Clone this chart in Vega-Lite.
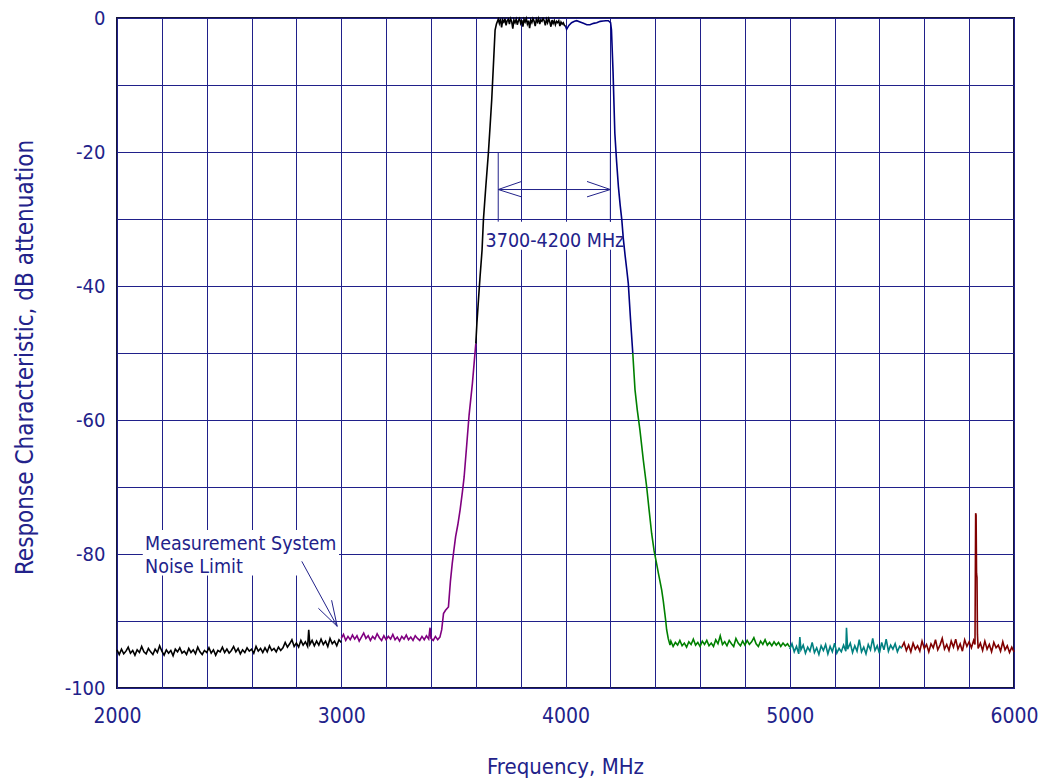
{
"$schema": "https://vega.github.io/schema/vega-lite/v6.json",
"width": 897, "height": 670,
"autosize": {"type": "none"},
"padding": {"left": 117, "top": 18, "right": 26, "bottom": 96},
"background": "white",
"view": {"stroke": "#16163a", "strokeWidth": 2},
"config": {"font": "Liberation Sans Narrow, DejaVu Sans Condensed, Arial Narrow, sans-serif"},
"datasets": {
"trace": [
{"f":2000,"d":-94.3,"s":"k1"},{"f":2010,"d":-95.0,"s":"k1"},{"f":2020,"d":-94.2,"s":"k1"},{"f":2030,"d":-94.9,"s":"k1"},{"f":2040,"d":-94.5,"s":"k1"},{"f":2050,"d":-93.9,"s":"k1"},{"f":2060,"d":-94.8,"s":"k1"},{"f":2070,"d":-94.4,"s":"k1"},{"f":2080,"d":-95.1,"s":"k1"},{"f":2090,"d":-94.3,"s":"k1"},
{"f":2100,"d":-94.7,"s":"k1"},{"f":2110,"d":-93.8,"s":"k1"},{"f":2120,"d":-94.6,"s":"k1"},{"f":2130,"d":-94.9,"s":"k1"},{"f":2140,"d":-94.1,"s":"k1"},{"f":2150,"d":-94.6,"s":"k1"},{"f":2160,"d":-95.0,"s":"k1"},{"f":2170,"d":-94.2,"s":"k1"},{"f":2180,"d":-94.7,"s":"k1"},{"f":2190,"d":-93.7,"s":"k1"},
{"f":2200,"d":-94.5,"s":"k1"},{"f":2210,"d":-95.1,"s":"k1"},{"f":2220,"d":-94.3,"s":"k1"},{"f":2230,"d":-94.8,"s":"k1"},{"f":2240,"d":-94.4,"s":"k1"},{"f":2250,"d":-95.2,"s":"k1"},{"f":2260,"d":-94.2,"s":"k1"},{"f":2270,"d":-94.6,"s":"k1"},{"f":2280,"d":-94.0,"s":"k1"},{"f":2290,"d":-94.8,"s":"k1"},
{"f":2300,"d":-94.5,"s":"k1"},{"f":2310,"d":-95.0,"s":"k1"},{"f":2320,"d":-94.1,"s":"k1"},{"f":2330,"d":-94.7,"s":"k1"},{"f":2340,"d":-94.3,"s":"k1"},{"f":2350,"d":-94.9,"s":"k1"},{"f":2360,"d":-93.9,"s":"k1"},{"f":2370,"d":-94.6,"s":"k1"},{"f":2380,"d":-95.0,"s":"k1"},{"f":2390,"d":-94.4,"s":"k1"},
{"f":2400,"d":-94.7,"s":"k1"},{"f":2410,"d":-94.0,"s":"k1"},{"f":2420,"d":-94.8,"s":"k1"},{"f":2430,"d":-94.3,"s":"k1"},{"f":2440,"d":-95.1,"s":"k1"},{"f":2450,"d":-94.4,"s":"k1"},{"f":2460,"d":-94.6,"s":"k1"},{"f":2470,"d":-93.9,"s":"k1"},{"f":2480,"d":-94.7,"s":"k1"},{"f":2490,"d":-94.2,"s":"k1"},
{"f":2500,"d":-94.8,"s":"k1"},{"f":2510,"d":-94.4,"s":"k1"},{"f":2520,"d":-93.8,"s":"k1"},{"f":2530,"d":-94.6,"s":"k1"},{"f":2540,"d":-94.1,"s":"k1"},{"f":2550,"d":-94.9,"s":"k1"},{"f":2560,"d":-94.3,"s":"k1"},{"f":2570,"d":-94.7,"s":"k1"},{"f":2580,"d":-94.0,"s":"k1"},{"f":2590,"d":-94.5,"s":"k1"},
{"f":2600,"d":-94.2,"s":"k1"},{"f":2610,"d":-94.8,"s":"k1"},{"f":2620,"d":-93.8,"s":"k1"},{"f":2630,"d":-94.5,"s":"k1"},{"f":2640,"d":-94.1,"s":"k1"},{"f":2650,"d":-94.7,"s":"k1"},{"f":2660,"d":-94.0,"s":"k1"},{"f":2670,"d":-94.6,"s":"k1"},{"f":2680,"d":-93.7,"s":"k1"},{"f":2690,"d":-94.4,"s":"k1"},
{"f":2700,"d":-94.1,"s":"k1"},{"f":2710,"d":-94.6,"s":"k1"},{"f":2720,"d":-93.9,"s":"k1"},{"f":2730,"d":-94.4,"s":"k1"},{"f":2740,"d":-94.0,"s":"k1"},{"f":2750,"d":-93.2,"s":"k1"},{"f":2760,"d":-93.9,"s":"k1"},{"f":2770,"d":-93.4,"s":"k1"},{"f":2780,"d":-92.8,"s":"k1"},{"f":2790,"d":-93.8,"s":"k1"},
{"f":2800,"d":-93.3,"s":"k1"},{"f":2810,"d":-93.9,"s":"k1"},{"f":2820,"d":-92.9,"s":"k1"},{"f":2830,"d":-93.6,"s":"k1"},{"f":2840,"d":-93.1,"s":"k1"},{"f":2850,"d":-93.8,"s":"k1"},{"f":2855,"d":-91.3,"s":"k1"},{"f":2860,"d":-93.5,"s":"k1"},{"f":2870,"d":-92.9,"s":"k1"},{"f":2880,"d":-93.7,"s":"k1"},{"f":2890,"d":-93.0,"s":"k1"},
{"f":2900,"d":-93.6,"s":"k1"},{"f":2910,"d":-92.7,"s":"k1"},{"f":2920,"d":-93.5,"s":"k1"},{"f":2930,"d":-93.0,"s":"k1"},{"f":2940,"d":-93.8,"s":"k1"},{"f":2950,"d":-92.6,"s":"k1"},{"f":2960,"d":-93.4,"s":"k1"},{"f":2970,"d":-93.0,"s":"k1"},{"f":2980,"d":-93.7,"s":"k1"},{"f":2990,"d":-92.8,"s":"k1"},{"f":3000,"d":-93.2,"s":"k1"},
{"f":3000,"d":-92.6,"s":"p"},{"f":3010,"d":-92.0,"s":"p"},{"f":3020,"d":-92.9,"s":"p"},{"f":3030,"d":-92.3,"s":"p"},{"f":3040,"d":-92.8,"s":"p"},{"f":3050,"d":-92.1,"s":"p"},{"f":3060,"d":-92.7,"s":"p"},{"f":3070,"d":-92.2,"s":"p"},{"f":3080,"d":-93.0,"s":"p"},{"f":3090,"d":-92.4,"s":"p"},
{"f":3100,"d":-91.8,"s":"p"},{"f":3110,"d":-92.6,"s":"p"},{"f":3120,"d":-92.2,"s":"p"},{"f":3130,"d":-92.9,"s":"p"},{"f":3140,"d":-92.3,"s":"p"},{"f":3150,"d":-92.7,"s":"p"},{"f":3160,"d":-91.9,"s":"p"},{"f":3170,"d":-92.5,"s":"p"},{"f":3180,"d":-92.9,"s":"p"},{"f":3190,"d":-92.2,"s":"p"},
{"f":3200,"d":-92.8,"s":"p"},{"f":3210,"d":-92.3,"s":"p"},{"f":3220,"d":-92.7,"s":"p"},{"f":3230,"d":-92.0,"s":"p"},{"f":3240,"d":-92.8,"s":"p"},{"f":3250,"d":-92.4,"s":"p"},{"f":3260,"d":-93.0,"s":"p"},{"f":3270,"d":-92.3,"s":"p"},{"f":3280,"d":-92.7,"s":"p"},{"f":3290,"d":-92.1,"s":"p"},
{"f":3300,"d":-92.8,"s":"p"},{"f":3310,"d":-92.4,"s":"p"},{"f":3320,"d":-92.9,"s":"p"},{"f":3330,"d":-92.2,"s":"p"},{"f":3340,"d":-92.6,"s":"p"},{"f":3350,"d":-92.9,"s":"p"},{"f":3360,"d":-92.3,"s":"p"},{"f":3370,"d":-92.8,"s":"p"},{"f":3380,"d":-92.2,"s":"p"},{"f":3390,"d":-92.7,"s":"p"},
{"f":3396,"d":-91.0,"s":"p"},{"f":3400,"d":-92.6,"s":"p"},{"f":3410,"d":-92.9,"s":"p"},{"f":3420,"d":-92.3,"s":"p"},{"f":3430,"d":-92.8,"s":"p"},{"f":3440,"d":-92.4,"s":"p"},{"f":3448,"d":-91.3,"s":"p"},{"f":3456,"d":-88.9,"s":"p"},{"f":3465,"d":-88.4,"s":"p"},{"f":3478,"d":-87.9,"s":"p"},
{"f":3487,"d":-84.0,"s":"p"},{"f":3495,"d":-81.4,"s":"p"},{"f":3502,"d":-79.5,"s":"p"},{"f":3510,"d":-77.4,"s":"p"},{"f":3520,"d":-75.6,"s":"p"},{"f":3530,"d":-73.4,"s":"p"},{"f":3540,"d":-70.8,"s":"p"},{"f":3548,"d":-68.5,"s":"p"},{"f":3560,"d":-63.5,"s":"p"},{"f":3570,"d":-59.3,"s":"p"},{"f":3585,"d":-54.5,"s":"p"},{"f":3600,"d":-48.6,"s":"p"},
{"f":3600,"d":-48.6,"s":"k2"},{"f":3605,"d":-45.5,"s":"k2"},{"f":3612,"d":-42.0,"s":"k2"},{"f":3619,"d":-38.6,"s":"k2"},{"f":3628,"d":-34.6,"s":"k2"},{"f":3634,"d":-30.1,"s":"k2"},{"f":3645,"d":-25.0,"s":"k2"},{"f":3656,"d":-20.2,"s":"k2"},{"f":3664,"d":-16.0,"s":"k2"},{"f":3671,"d":-12.2,"s":"k2"},{"f":3680,"d":-6.0,"s":"k2"},{"f":3686,"d":-1.8,"s":"k2"},{"f":3692,"d":-0.9,"s":"k2"},
{"f":3700,"d":-0.2,"s":"k2"},{"f":3705,"d":-0.8,"s":"k2"},{"f":3710,"d":-0.1,"s":"k2"},{"f":3715,"d":-1.4,"s":"k2"},{"f":3720,"d":-0.3,"s":"k2"},{"f":3725,"d":-0.6,"s":"k2"},{"f":3730,"d":-0.1,"s":"k2"},{"f":3735,"d":-1.1,"s":"k2"},{"f":3740,"d":-0.4,"s":"k2"},{"f":3745,"d":-0.2,"s":"k2"},
{"f":3750,"d":-0.9,"s":"k2"},{"f":3755,"d":-0.1,"s":"k2"},{"f":3760,"d":-0.5,"s":"k2"},{"f":3765,"d":-1.6,"s":"k2"},{"f":3770,"d":-0.3,"s":"k2"},{"f":3775,"d":-0.7,"s":"k2"},{"f":3780,"d":-0.2,"s":"k2"},{"f":3785,"d":-1.0,"s":"k2"},{"f":3790,"d":-0.4,"s":"k2"},{"f":3795,"d":-0.1,"s":"k2"},
{"f":3800,"d":-0.8,"s":"k2"},{"f":3805,"d":-0.3,"s":"k2"},{"f":3810,"d":-1.3,"s":"k2"},{"f":3815,"d":-0.2,"s":"k2"},{"f":3820,"d":-0.6,"s":"k2"},{"f":3825,"d":-0.1,"s":"k2"},{"f":3830,"d":-0.9,"s":"k2"},{"f":3835,"d":-0.4,"s":"k2"},{"f":3840,"d":-1.5,"s":"k2"},{"f":3845,"d":-0.3,"s":"k2"},
{"f":3850,"d":-0.7,"s":"k2"},{"f":3855,"d":-0.1,"s":"k2"},{"f":3860,"d":-0.5,"s":"k2"},{"f":3865,"d":-1.2,"s":"k2"},{"f":3870,"d":-0.2,"s":"k2"},{"f":3875,"d":-0.6,"s":"k2"},{"f":3880,"d":-0.1,"s":"k2"},{"f":3885,"d":-0.9,"s":"k2"},{"f":3890,"d":-0.3,"s":"k2"},{"f":3895,"d":-0.5,"s":"k2"},
{"f":3900,"d":-0.1,"s":"k2"},{"f":3905,"d":-0.4,"s":"k2"},{"f":3910,"d":-1.1,"s":"k2"},{"f":3915,"d":-0.2,"s":"k2"},{"f":3920,"d":-0.7,"s":"k2"},{"f":3925,"d":-0.1,"s":"k2"},{"f":3930,"d":-0.6,"s":"k2"},{"f":3935,"d":-1.3,"s":"k2"},{"f":3940,"d":-0.3,"s":"k2"},{"f":3945,"d":-0.8,"s":"k2"},
{"f":3950,"d":-0.4,"s":"k2"},{"f":3955,"d":-1.0,"s":"k2"},{"f":3960,"d":-0.5,"s":"k2"},{"f":3965,"d":-0.7,"s":"k2"},{"f":3970,"d":-0.4,"s":"k2"},{"f":3975,"d":-1.2,"s":"k2"},{"f":3980,"d":-0.6,"s":"k2"},{"f":3985,"d":-0.9,"s":"k2"},{"f":3990,"d":-0.7,"s":"k2"},{"f":3995,"d":-1.1,"s":"k2"},{"f":4000,"d":-1.2,"s":"k2"},
{"f":4000,"d":-1.2,"s":"b"},{"f":4005,"d":-1.7,"s":"b"},{"f":4015,"d":-1.1,"s":"b"},{"f":4027,"d":-0.7,"s":"b"},{"f":4040,"d":-0.5,"s":"b"},{"f":4050,"d":-0.4,"s":"b"},{"f":4065,"d":-0.6,"s":"b"},{"f":4080,"d":-0.8,"s":"b"},{"f":4095,"d":-1.0,"s":"b"},{"f":4109,"d":-1.0,"s":"b"},{"f":4125,"d":-0.8,"s":"b"},{"f":4139,"d":-0.7,"s":"b"},{"f":4155,"d":-0.5,"s":"b"},{"f":4168,"d":-0.45,"s":"b"},{"f":4180,"d":-0.4,"s":"b"},{"f":4191,"d":-0.4,"s":"b"},{"f":4201,"d":-0.7,"s":"b"},{"f":4205,"d":-1.8,"s":"b"},
{"f":4212,"d":-8.0,"s":"b"},{"f":4220,"d":-17.2,"s":"b"},{"f":4228,"d":-21.5,"s":"b"},{"f":4236,"d":-25.2,"s":"b"},{"f":4244,"d":-28.0,"s":"b"},{"f":4251,"d":-30.1,"s":"b"},{"f":4258,"d":-33.0,"s":"b"},{"f":4266,"d":-35.5,"s":"b"},{"f":4273,"d":-37.5,"s":"b"},{"f":4280,"d":-39.6,"s":"b"},{"f":4290,"d":-45.0,"s":"b"},{"f":4300,"d":-50.0,"s":"b"},
{"f":4300,"d":-50.0,"s":"g"},{"f":4310,"d":-55.5,"s":"g"},{"f":4320,"d":-58.5,"s":"g"},{"f":4332,"d":-61.5,"s":"g"},{"f":4347,"d":-66.0,"s":"g"},{"f":4362,"d":-70.0,"s":"g"},{"f":4373,"d":-73.5,"s":"g"},{"f":4384,"d":-76.9,"s":"g"},{"f":4395,"d":-79.5,"s":"g"},{"f":4406,"d":-81.4,"s":"g"},{"f":4415,"d":-83.0,"s":"g"},{"f":4421,"d":-84.0,"s":"g"},{"f":4429,"d":-85.4,"s":"g"},{"f":4436,"d":-87.0,"s":"g"},{"f":4443,"d":-88.9,"s":"g"},{"f":4447,"d":-90.0,"s":"g"},{"f":4451,"d":-91.3,"s":"g"},{"f":4458,"d":-92.6,"s":"g"},{"f":4466,"d":-93.6,"s":"g"},
{"f":4470,"d":-93.0,"s":"g"},{"f":4480,"d":-93.8,"s":"g"},{"f":4490,"d":-93.2,"s":"g"},{"f":4500,"d":-93.6,"s":"g"},{"f":4510,"d":-92.9,"s":"g"},{"f":4520,"d":-93.7,"s":"g"},{"f":4530,"d":-93.3,"s":"g"},{"f":4540,"d":-93.9,"s":"g"},{"f":4550,"d":-93.1,"s":"g"},{"f":4560,"d":-93.5,"s":"g"},
{"f":4570,"d":-92.7,"s":"g"},{"f":4580,"d":-93.6,"s":"g"},{"f":4590,"d":-93.2,"s":"g"},{"f":4600,"d":-93.8,"s":"g"},{"f":4610,"d":-93.0,"s":"g"},{"f":4620,"d":-93.5,"s":"g"},{"f":4630,"d":-92.9,"s":"g"},{"f":4640,"d":-93.7,"s":"g"},{"f":4650,"d":-93.3,"s":"g"},{"f":4660,"d":-93.8,"s":"g"},
{"f":4670,"d":-92.8,"s":"g"},{"f":4680,"d":-93.4,"s":"g"},{"f":4690,"d":-92.2,"s":"g"},{"f":4700,"d":-93.5,"s":"g"},{"f":4710,"d":-93.1,"s":"g"},{"f":4720,"d":-93.7,"s":"g"},{"f":4730,"d":-92.9,"s":"g"},{"f":4740,"d":-93.4,"s":"g"},{"f":4750,"d":-93.8,"s":"g"},{"f":4760,"d":-92.6,"s":"g"},
{"f":4770,"d":-93.3,"s":"g"},{"f":4780,"d":-93.7,"s":"g"},{"f":4790,"d":-93.0,"s":"g"},{"f":4800,"d":-93.6,"s":"g"},{"f":4810,"d":-92.9,"s":"g"},{"f":4820,"d":-93.5,"s":"g"},{"f":4830,"d":-93.1,"s":"g"},{"f":4840,"d":-92.5,"s":"g"},{"f":4850,"d":-93.4,"s":"g"},{"f":4860,"d":-93.8,"s":"g"},
{"f":4870,"d":-93.0,"s":"g"},{"f":4880,"d":-93.5,"s":"g"},{"f":4890,"d":-92.8,"s":"g"},{"f":4900,"d":-93.6,"s":"g"},{"f":4910,"d":-93.2,"s":"g"},{"f":4920,"d":-93.7,"s":"g"},{"f":4930,"d":-93.1,"s":"g"},{"f":4940,"d":-93.6,"s":"g"},{"f":4950,"d":-93.2,"s":"g"},{"f":4960,"d":-93.8,"s":"g"},
{"f":4970,"d":-93.3,"s":"g"},{"f":4980,"d":-93.7,"s":"g"},{"f":4990,"d":-93.4,"s":"g"},{"f":5000,"d":-93.9,"s":"g"},
{"f":5000,"d":-94.2,"s":"t"},{"f":5010,"d":-93.4,"s":"t"},{"f":5020,"d":-94.6,"s":"t"},{"f":5030,"d":-93.8,"s":"t"},{"f":5040,"d":-94.9,"s":"t"},{"f":5045,"d":-92.4,"s":"t"},{"f":5050,"d":-94.3,"s":"t"},{"f":5060,"d":-93.6,"s":"t"},{"f":5070,"d":-94.8,"s":"t"},{"f":5080,"d":-93.9,"s":"t"},{"f":5090,"d":-94.5,"s":"t"},
{"f":5100,"d":-93.2,"s":"t"},{"f":5110,"d":-94.7,"s":"t"},{"f":5120,"d":-94.0,"s":"t"},{"f":5130,"d":-95.0,"s":"t"},{"f":5140,"d":-93.7,"s":"t"},{"f":5150,"d":-94.4,"s":"t"},{"f":5160,"d":-93.5,"s":"t"},{"f":5170,"d":-94.9,"s":"t"},{"f":5180,"d":-93.8,"s":"t"},{"f":5190,"d":-94.6,"s":"t"},
{"f":5200,"d":-93.3,"s":"t"},{"f":5210,"d":-94.8,"s":"t"},{"f":5220,"d":-94.1,"s":"t"},{"f":5230,"d":-94.6,"s":"t"},{"f":5240,"d":-93.6,"s":"t"},{"f":5250,"d":-94.5,"s":"t"},{"f":5253,"d":-91.0,"s":"t"},{"f":5258,"d":-94.2,"s":"t"},{"f":5270,"d":-93.3,"s":"t"},{"f":5280,"d":-94.7,"s":"t"},{"f":5290,"d":-93.7,"s":"t"},
{"f":5300,"d":-94.5,"s":"t"},{"f":5310,"d":-92.8,"s":"t"},{"f":5320,"d":-94.6,"s":"t"},{"f":5330,"d":-93.9,"s":"t"},{"f":5340,"d":-94.9,"s":"t"},{"f":5350,"d":-93.5,"s":"t"},{"f":5360,"d":-94.3,"s":"t"},{"f":5370,"d":-92.6,"s":"t"},{"f":5380,"d":-94.4,"s":"t"},{"f":5390,"d":-93.7,"s":"t"},
{"f":5400,"d":-94.8,"s":"t"},{"f":5410,"d":-93.2,"s":"t"},{"f":5420,"d":-94.3,"s":"t"},{"f":5430,"d":-92.7,"s":"t"},{"f":5440,"d":-94.5,"s":"t"},{"f":5450,"d":-93.6,"s":"t"},{"f":5460,"d":-94.2,"s":"t"},{"f":5470,"d":-93.4,"s":"t"},{"f":5480,"d":-94.6,"s":"t"},{"f":5490,"d":-93.8,"s":"t"},{"f":5500,"d":-94.1,"s":"t"},
{"f":5500,"d":-93.9,"s":"r"},{"f":5510,"d":-93.2,"s":"r"},{"f":5520,"d":-94.4,"s":"r"},{"f":5530,"d":-93.6,"s":"r"},{"f":5540,"d":-94.6,"s":"r"},{"f":5550,"d":-93.3,"s":"r"},{"f":5560,"d":-94.2,"s":"r"},{"f":5570,"d":-93.7,"s":"r"},{"f":5580,"d":-94.5,"s":"r"},{"f":5590,"d":-93.0,"s":"r"},
{"f":5600,"d":-94.1,"s":"r"},{"f":5610,"d":-93.5,"s":"r"},{"f":5620,"d":-94.6,"s":"r"},{"f":5630,"d":-93.4,"s":"r"},{"f":5640,"d":-94.0,"s":"r"},{"f":5650,"d":-92.8,"s":"r"},{"f":5660,"d":-94.3,"s":"r"},{"f":5670,"d":-93.6,"s":"r"},{"f":5680,"d":-92.6,"s":"r"},{"f":5690,"d":-94.2,"s":"r"},
{"f":5700,"d":-93.5,"s":"r"},{"f":5710,"d":-94.4,"s":"r"},{"f":5720,"d":-93.0,"s":"r"},{"f":5730,"d":-93.9,"s":"r"},{"f":5740,"d":-92.7,"s":"r"},{"f":5750,"d":-94.2,"s":"r"},{"f":5760,"d":-93.4,"s":"r"},{"f":5770,"d":-94.5,"s":"r"},{"f":5780,"d":-92.8,"s":"r"},{"f":5790,"d":-93.8,"s":"r"},
{"f":5800,"d":-93.1,"s":"r"},{"f":5810,"d":-94.0,"s":"r"},{"f":5820,"d":-92.9,"s":"r"},{"f":5826,"d":-93.5,"s":"r"},{"f":5829,"d":-73.9,"s":"r"},{"f":5831,"d":-74.2,"s":"r"},{"f":5833,"d":-82.9,"s":"r"},{"f":5835,"d":-83.5,"s":"r"},{"f":5837,"d":-92.0,"s":"r"},{"f":5840,"d":-94.1,"s":"r"},
{"f":5850,"d":-93.3,"s":"r"},{"f":5860,"d":-94.4,"s":"r"},{"f":5870,"d":-93.0,"s":"r"},{"f":5880,"d":-94.2,"s":"r"},{"f":5890,"d":-93.5,"s":"r"},{"f":5900,"d":-94.6,"s":"r"},{"f":5910,"d":-93.2,"s":"r"},{"f":5920,"d":-94.0,"s":"r"},{"f":5930,"d":-93.6,"s":"r"},{"f":5940,"d":-94.5,"s":"r"},
{"f":5950,"d":-93.1,"s":"r"},{"f":5960,"d":-94.3,"s":"r"},{"f":5970,"d":-93.7,"s":"r"},{"f":5980,"d":-94.7,"s":"r"},{"f":5990,"d":-93.9,"s":"r"},{"f":6000,"d":-94.6,"s":"r"}
],
"ann": [
{"f":3700,"d":-20.1,"f2":3700,"d2":-30.4},
{"f":4200,"d":-20.1,"f2":4200,"d2":-30.4},
{"f":3700,"d":-25.6,"f2":4200,"d2":-25.6},
{"f":3700,"d":-25.6,"f2":3804,"d2":-24.4},
{"f":3700,"d":-25.6,"f2":3804,"d2":-26.7},
{"f":4200,"d":-25.6,"f2":4096,"d2":-24.4},
{"f":4200,"d":-25.6,"f2":4096,"d2":-26.7},
{"f":2824,"d":-81.1,"f2":2982,"d2":-90.8},
{"f":2982,"d":-90.8,"f2":2898,"d2":-88.1},
{"f":2982,"d":-90.8,"f2":2957,"d2":-86.9}
],
"box": [
{"f":2115,"d":-76.4,"f2":2990,"d2":-83.2},
{"f":3646,"d":-30.4,"f2":4266,"d2":-34.6}
],
"txtL": [
{"f":2125,"d":-79.4,"t":"Measurement System"},
{"f":2125,"d":-82.9,"t":"Noise Limit"}
],
"txtC": [
{"f":3953,"d":-34.2,"t":"3700-4200 MHz"}
]
},
"encoding": {
"x": {"field": "f", "type": "quantitative",
 "scale": {"domain": [2000, 6000], "nice": false, "zero": false},
 "axis": {"values": [2000,2200,2400,2600,2800,3000,3200,3400,3600,3800,4000,4200,4400,4600,4800,5000,5200,5400,5600,5800,6000],
  "labelExpr": "datum.value % 1000 == 0 ? '' + datum.value : ''",
  "title": "Frequency, MHz", "grid": true, "gridColor": "#20208a", "gridWidth": 1, "gridOpacity": 1,
  "domain": false, "ticks": false, "tickSize": 0, "labelPadding": 34, "labelBaseline": "alphabetic",
  "labelFontSize": 21, "labelColor": "#22228a", "labelFlush": false, "labelOverlap": false,
  "titleFontSize": 22, "titleFontWeight": "normal", "titleColor": "#22228a", "titleX": 448, "titleY": 85, "titleBaseline": "alphabetic", "titleAlign": "center"}},
"y": {"field": "d", "type": "quantitative",
 "scale": {"domain": [-100, 0], "nice": false, "zero": false},
 "axis": {"values": [-100,-90,-80,-70,-60,-50,-40,-30,-20,-10,0],
  "labelExpr": "datum.value % 20 == 0 ? '' + datum.value : ''",
  "title": "Response Characteristic, dB attenuation", "grid": true, "gridColor": "#20208a", "gridWidth": 1, "gridOpacity": 1,
  "domain": false, "ticks": false, "tickSize": 0, "labelPadding": 12, "labelBaseline": "middle",
  "labelFontSize": 20, "labelColor": "#22228a", "labelFlush": false, "labelOverlap": false,
  "titleFontSize": 24, "titleFontWeight": "normal", "titleColor": "#22228a", "titleAngle": -90, "titleX": -85, "titleY": 339, "titleBaseline": "alphabetic", "titleAlign": "center"}}
},
"layer": [
{"data": {"name": "box"}, "mark": {"type": "rect", "color": "white"},
 "encoding": {"x2": {"field": "f2"}, "y2": {"field": "d2"}}},
{"data": {"name": "trace"}, "mark": {"type": "line", "strokeWidth": 1.6},
 "encoding": {"color": {"field": "s", "type": "nominal", "legend": null,
   "scale": {"domain": ["k1","p","k2","b","g","t","r"], "range": ["#000000","#800080","#000000","#000080","#008000","#008080","#800000"]}}}},
{"data": {"name": "ann"}, "mark": {"type": "rule", "color": "#22228a", "strokeWidth": 1},
 "encoding": {"x2": {"field": "f2"}, "y2": {"field": "d2"}}},
{"data": {"name": "txtL"}, "mark": {"type": "text", "align": "left", "baseline": "alphabetic", "fontSize": 19.5, "color": "#22228a"},
 "encoding": {"text": {"field": "t"}}},
{"data": {"name": "txtC"}, "mark": {"type": "text", "align": "center", "baseline": "alphabetic", "fontSize": 19.5, "color": "#22228a"},
 "encoding": {"text": {"field": "t"}}}
]
}
